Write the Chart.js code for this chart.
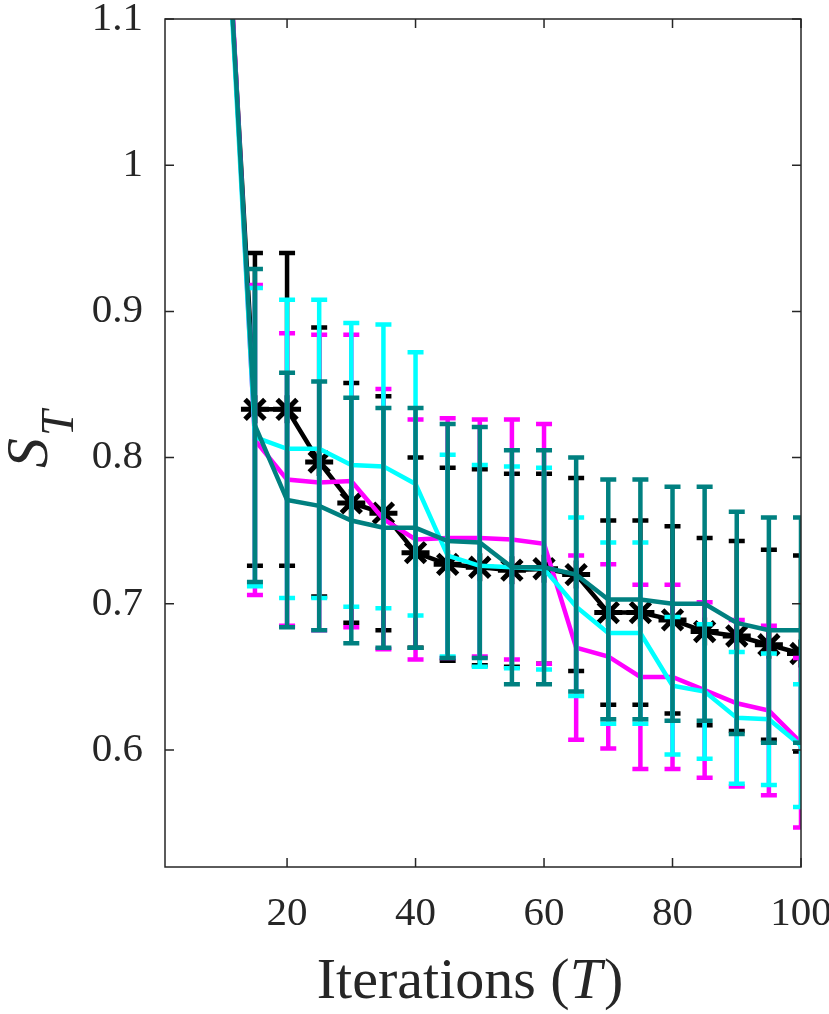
<!DOCTYPE html>
<html>
<head>
<meta charset="utf-8">
<script src="https://cdn.jsdelivr.net/npm/chart.js@4.4.1/dist/chart.umd.min.js"></script>
<style>
html, body { margin: 0; padding: 0; background: #fff; }
#wrap { width: 829px; height: 1014px; }
</style>
</head>
<body>
<div id="wrap"><canvas id="myChart"></canvas></div>
<script>
// iterations on the x axis, one mean and one error (half bar) per series
const iterations = [10, 15, 20, 25, 30, 35, 40, 45, 50, 55, 60, 65, 70, 75, 80, 85, 90, 95, 100];

const blackMean = [1.22, 0.833, 0.833, 0.797, 0.769, 0.762, 0.735, 0.727, 0.725, 0.723, 0.724, 0.720, 0.694, 0.694, 0.689, 0.681, 0.678, 0.672, 0.666];
const blackErr = [null, 0.107, 0.107, 0.092, 0.082, 0.080, 0.065, 0.066, 0.067, 0.066, 0.065, 0.066, 0.063, 0.063, 0.064, 0.064, 0.065, 0.065, 0.067];

const magentaMean = [1.235, 0.812, 0.785, 0.783, 0.784, 0.758, 0.744, 0.745, 0.745, 0.744, 0.741, 0.670, 0.664, 0.650, 0.650, 0.641, 0.632, 0.627, 0.605];
const magentaErr = [null, 0.106, 0.100, 0.101, 0.100, 0.089, 0.082, 0.082, 0.081, 0.082, 0.082, 0.063, 0.063, 0.063, 0.063, 0.060, 0.057, 0.058, 0.058];

const cyanMean = [1.22, 0.814, 0.806, 0.806, 0.795, 0.794, 0.782, 0.733, 0.726, 0.725, 0.724, 0.698, 0.680, 0.680, 0.644, 0.640, 0.622, 0.621, 0.603];
const cyanErr = [null, 0.102, 0.102, 0.102, 0.097, 0.097, 0.090, 0.069, 0.069, 0.069, 0.069, 0.061, 0.062, 0.062, 0.047, 0.046, 0.045, 0.045, 0.042];

const tealMean = [1.225, 0.822, 0.771, 0.767, 0.757, 0.752, 0.752, 0.743, 0.742, 0.725, 0.725, 0.720, 0.703, 0.703, 0.700, 0.700, 0.687, 0.682, 0.682];
const tealErr = [null, 0.107, 0.087, 0.085, 0.084, 0.082, 0.082, 0.080, 0.079, 0.080, 0.080, 0.080, 0.082, 0.082, 0.080, 0.080, 0.076, 0.077, 0.077];

const xTicks = [20, 40, 60, 80, 100];
const yTicks = [0.6, 0.7, 0.8, 0.9, 1, 1.1];

const axisColor = '#262626';
const serif = '"Liberation Serif", "DejaVu Serif", serif';

function points(means) {
    return iterations.map((x, i) => ({ x: x, y: means[i] }));
}

// error bars are drawn just under each dataset's own line so the layering follows the datasets
const errorBars = {
    id: 'errorBars',
    beforeDatasetDraw(chart, args) {
        const ds = chart.data.datasets[args.index];
        if (!ds.errors) return;
        const ctx = chart.ctx;
        const xs = chart.scales.x, ys = chart.scales.y;
        const area = chart.chartArea;
        ctx.save();
        ctx.beginPath();
        ctx.rect(area.left, area.top - 2, area.right - area.left, area.bottom - area.top + 4);
        ctx.clip();
        ctx.strokeStyle = ds.borderColor;
        ctx.lineWidth = 4.5;
        ctx.lineCap = 'butt';
        ds.data.forEach((p, i) => {
            const e = ds.errors[i];
            if (e == null) return;
            const px = xs.getPixelForValue(p.x);
            const top = ys.getPixelForValue(p.y + e);
            const bot = ys.getPixelForValue(p.y - e);
            ctx.beginPath();
            ctx.moveTo(px, top);
            ctx.lineTo(px, bot);
            ctx.moveTo(px - 8, top);
            ctx.lineTo(px + 8, top);
            ctx.moveTo(px - 8, bot);
            ctx.lineTo(px + 8, bot);
            ctx.stroke();
        });
        ctx.restore();
    }
};

// box around the axes, inward ticks, and the two axis titles
const frame = {
    id: 'frame',
    afterDraw(chart) {
        const ctx = chart.ctx;
        const a = chart.chartArea;
        const xs = chart.scales.x, ys = chart.scales.y;
        const tl = 9;
        ctx.save();
        ctx.strokeStyle = axisColor;
        ctx.lineWidth = 1.5;
        ctx.strokeRect(a.left, a.top, a.right - a.left, a.bottom - a.top);
        ctx.beginPath();
        xTicks.forEach(v => {
            const px = xs.getPixelForValue(v);
            ctx.moveTo(px, a.bottom);
            ctx.lineTo(px, a.bottom - tl);
            ctx.moveTo(px, a.top);
            ctx.lineTo(px, a.top + tl);
        });
        yTicks.forEach(v => {
            const py = ys.getPixelForValue(v);
            ctx.moveTo(a.left, py);
            ctx.lineTo(a.left + tl, py);
            ctx.moveTo(a.right, py);
            ctx.lineTo(a.right - tl, py);
        });
        ctx.stroke();

        ctx.fillStyle = axisColor;
        ctx.textBaseline = 'alphabetic';
        ctx.textAlign = 'left';

        // x title: Iterations (T)
        const f1 = '58px ' + serif;
        const f2 = 'italic 58px ' + serif;
        ctx.font = f1;
        const w1 = ctx.measureText('Iterations (').width;
        const w3 = ctx.measureText(')').width;
        ctx.font = f2;
        const w2 = ctx.measureText('T').width;
        let x0 = 469 - (w1 + w2 + w3) / 2;
        const base = 998;
        ctx.font = f1;
        ctx.fillText('Iterations (', x0, base);
        ctx.font = f2;
        ctx.fillText('T', x0 + w1, base);
        ctx.font = f1;
        ctx.fillText(')', x0 + w1 + w2 + 2, base);

        // y title: S with subscript T, rotated
        ctx.translate(47, 468);
        ctx.rotate(-Math.PI / 2);
        ctx.font = 'italic 60px ' + serif;
        ctx.fillText('S', 0, 0);
        const ws = ctx.measureText('S').width;
        ctx.font = 'italic 46px ' + serif;
        ctx.fillText('T', ws + 2, 26);
        ctx.restore();
    }
};

const ctx = document.getElementById('myChart');
new Chart(ctx, {
    type: 'line',
    data: {
        datasets: [
            {
                label: 'black',
                data: points(blackMean),
                errors: blackErr,
                borderColor: '#000000',
                backgroundColor: '#000000',
                borderWidth: 4.5,
                pointStyle: 'star',
                pointRadius: 14,
                pointBorderWidth: 5,
                order: 4
            },
            {
                label: 'magenta',
                data: points(magentaMean),
                errors: magentaErr,
                borderColor: '#ff00ff',
                borderWidth: 4.5,
                pointRadius: 0,
                order: 3
            },
            {
                label: 'cyan',
                data: points(cyanMean),
                errors: cyanErr,
                borderColor: '#00ffff',
                borderWidth: 4.5,
                pointRadius: 0,
                order: 2
            },
            {
                label: 'teal',
                data: points(tealMean),
                errors: tealErr,
                borderColor: '#008080',
                borderWidth: 4.5,
                pointRadius: 0,
                order: 1
            }
        ]
    },
    options: {
        responsive: true,
        maintainAspectRatio: false,
        animation: false,
        layout: { padding: { top: 13, right: 28, bottom: 0, left: 0 } },
        plugins: {
            legend: { display: false },
            tooltip: { enabled: false }
        },
        scales: {
            x: {
                type: 'linear',
                min: 1,
                max: 100,
                afterBuildTicks: s => { s.ticks = xTicks.map(v => ({ value: v })); },
                afterFit: s => { s.height = 147; s.paddingLeft = 0; s.paddingRight = 0; },
                ticks: {
                    font: { family: serif, size: 41 },
                    color: axisColor,
                    padding: 23,
                    maxRotation: 0,
                    autoSkip: false
                },
                grid: { display: false, drawTicks: false },
                border: { display: false }
            },
            y: {
                type: 'linear',
                min: 0.52,
                max: 1.1,
                afterBuildTicks: s => { s.ticks = yTicks.map(v => ({ value: v })); },
                afterFit: s => { s.width = 165; s.paddingTop = 0; s.paddingBottom = 0; },
                ticks: {
                    font: { family: serif, size: 41 },
                    color: axisColor,
                    padding: 22,
                    autoSkip: false,
                    callback: v => String(Math.round(v * 10) / 10)
                },
                grid: { display: false, drawTicks: false },
                border: { display: false }
            }
        }
    },
    plugins: [errorBars, frame]
});
</script>
</body>
</html>
